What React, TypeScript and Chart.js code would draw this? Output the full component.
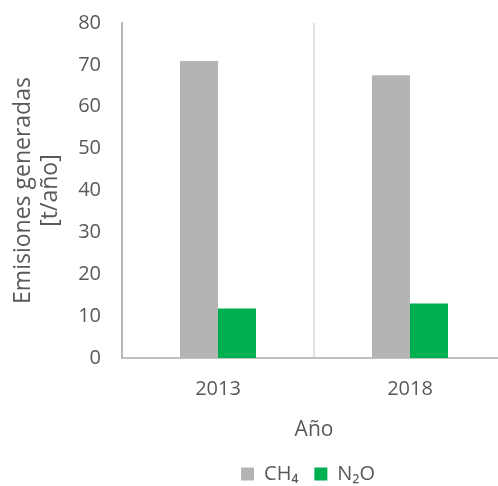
import { useEffect, useRef } from 'react';
import { Chart, registerables } from 'chart.js';

Chart.register(...registerables);

const categories = ['2013', '2018'];
const ch4Values = [70.9, 67.5];
const n2oValues = [11.8, 13.0];
const seriesLabels = ['CH₄', 'N₂O'];
const yTitleLines = ['Emisiones generadas', '[t/año]'];
const xTitle = 'Año';

const TEXT = '#595959';
const FONT = 'Open Sans';

const legendShift = {
  id: 'legendShift',
  afterLayout(chart: any) {
    if (chart.legend) {
      chart.legend.left -= 6;
      chart.legend.right -= 6;
    }
  },
};

export default function App() {
  const ref = useRef<HTMLCanvasElement>(null);

  useEffect(() => {
    if (!ref.current) return;
    const chart = new Chart(ref.current, {
      type: 'bar',
      data: {
        labels: categories,
        datasets: [
          { label: seriesLabels[0], data: ch4Values, backgroundColor: '#b4b4b4', borderWidth: 0 },
          { label: seriesLabels[1], data: n2oValues, backgroundColor: '#00b050', borderWidth: 0 },
        ],
      },
      plugins: [legendShift],
      options: {
        responsive: false,
        animation: false,
        devicePixelRatio: 1,
        layout: { padding: { top: 23, left: 0, right: 0, bottom: 0 } },
        datasets: { bar: { categoryPercentage: 0.396, barPercentage: 1 } },
        plugins: {
          legend: {
            position: 'bottom',
            fullSize: false,
            labels: {
              boxWidth: 13,
              boxHeight: 13,
              padding: 16,
              color: TEXT,
              font: { family: FONT, size: 20 },
            },
          },
          tooltip: { enabled: false },
        },
        scales: {
          x: {
            offset: true,
            grid: {
              offset: true,
              drawTicks: false,
              lineWidth: 2,
              color: (c: any) => (c.index === 1 ? '#e2e2e2' : 'rgba(0,0,0,0)'),
            },
            border: { display: true, color: '#c0c0c0', width: 2 },
            ticks: { padding: 19, color: TEXT, font: { family: FONT, size: 20 } },
            title: {
              display: true,
              text: xTitle,
              color: TEXT,
              font: { family: FONT, size: 21 },
              padding: { top: 16, bottom: 5 },
            },
            afterFit: (s: any) => {
              s.paddingLeft = 0;
              s.paddingRight = 0;
              s.height = 90;
            },
          },
          y: {
            min: 0,
            max: 80,
            ticks: { stepSize: 10, padding: 21, color: TEXT, font: { family: FONT, size: 20 } },
            grid: { display: false, drawTicks: false },
            border: { display: true, color: '#b8b8b8', width: 2 },
            title: {
              display: true,
              text: yTitleLines,
              color: TEXT,
              font: { family: FONT, size: 23, lineHeight: 1.18 },
              padding: { top: 10, bottom: 0 },
            },
            afterFit: (s: any) => {
              s.width = 122;
              s.paddingTop = 0;
              s.paddingBottom = 0;
            },
          },
        },
      },
    });
    return () => chart.destroy();
  }, []);

  return (
    <div
      style={{
        position: 'absolute',
        left: 0,
        top: 0,
        width: 498,
        height: 486,
        overflow: 'hidden',
        background: '#ffffff',
      }}
    >
      <canvas ref={ref} width={506} height={494} style={{ display: 'block', width: 506, height: 494 }} />
    </div>
  );
}
